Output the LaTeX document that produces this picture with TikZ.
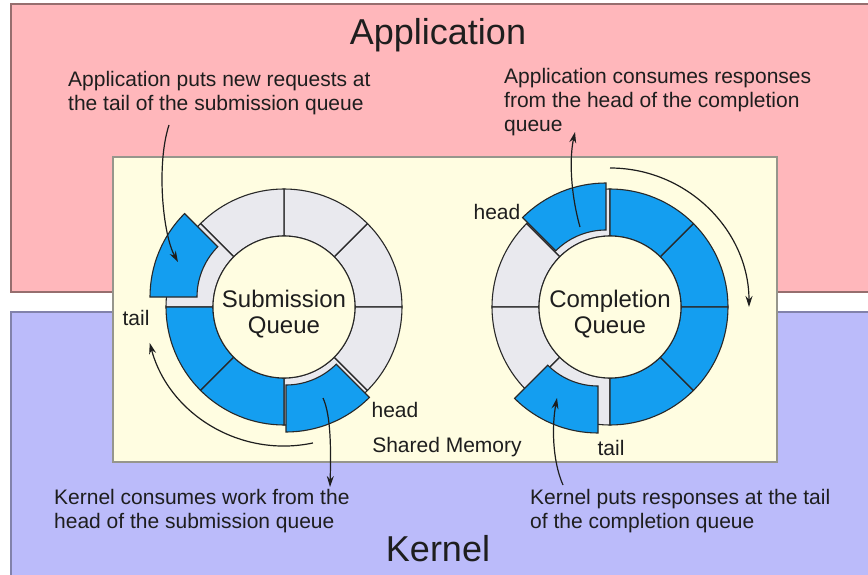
\documentclass[tikz,border=0pt]{standalone}
\usepackage{fontspec}
\setmainfont{Liberation Sans}
\usetikzlibrary{arrows.meta}
\definecolor{appfill}{RGB}{255,183,187}
\definecolor{appline}{RGB}{150,110,110}
\definecolor{kerfill}{RGB}{187,187,250}
\definecolor{kerline}{RGB}{130,130,170}
\definecolor{memfill}{RGB}{255,253,225}
\definecolor{memline}{RGB}{150,150,140}
\definecolor{segblue}{RGB}{20,158,240}
\definecolor{seggray}{RGB}{233,233,238}
\definecolor{ringline}{RGB}{40,40,40}
\definecolor{txt}{RGB}{30,30,30}
\newcommand{\ringseg}[2]{(#1:71) -- (#1:118) arc[start angle=#1, end angle=#2, radius=118] -- (#2:71) arc[start angle=#2, end angle=#1, radius=71] -- cycle}
\begin{document}
\begin{tikzpicture}[x=1pt, y=-1pt,
  region/.style={line width=1.2pt},
  bluecell/.style={fill=segblue, draw=ringline, line width=1.1pt},
  graycell/.style={fill=seggray, draw=ringline, line width=1.1pt},
  hub/.style={fill=memfill, draw=ringline, line width=1.1pt},
  lbl/.style={text=txt, font=\fontsize{21}{24}\selectfont, inner sep=0pt, align=left},
  title/.style={text=txt, font=\fontsize{36}{40}\selectfont, inner sep=0pt},
  qname/.style={text=txt, font=\fontsize{24}{26}\selectfont, inner sep=0pt, align=center},
  ptr/.style={draw=txt, line width=1.2pt, -{Stealth[length=11pt,width=7pt]}},
]
\path[use as bounding box] (0,0) rectangle (868,575);
\clip (0,0) rectangle (868,575);
\fill[white] (0,0) rectangle (868,575);
\filldraw[region, fill=appfill, draw=appline] (11,4) rectangle (880,292);
\filldraw[region, fill=kerfill, draw=kerline] (11,312) rectangle (880,590);
\filldraw[region, fill=memfill, draw=memline] (113,157) rectangle (777,462);

\coordinate (sq) at (284,307);
\coordinate (cq) at (610,307);

% Submission queue ring
\begin{scope}[shift={(sq)}]
  \foreach \a/\b in {0/-45,-45/-90,-90/-135,-135/-180,-270/-315,-315/-360}
    {\filldraw[graycell] \ringseg{\a}{\b};}
  \foreach \a/\b in {-180/-225,-225/-270}
    {\filldraw[bluecell] \ringseg{\a}{\b};}
  \filldraw[hub] (0,0) circle[radius=71];
  \filldraw[bluecell, shift={(-16,-10)}] \ringseg{-135}{-180};
  \filldraw[bluecell, shift={(2,7)}] \ringseg{-270}{-315};
\end{scope}

% Completion queue ring
\begin{scope}[shift={(cq)}]
  \foreach \a/\b in {-90/-135,-135/-180,-180/-225,-225/-270}
    {\filldraw[graycell] \ringseg{\a}{\b};}
  \foreach \a/\b in {0/-45,-45/-90,-270/-315,-315/-360}
    {\filldraw[bluecell] \ringseg{\a}{\b};}
  \filldraw[hub] (0,0) circle[radius=71];
  \filldraw[bluecell, shift={(-4,-6)}] \ringseg{-90}{-135};
  \filldraw[bluecell, shift={(-12,8)}] \ringseg{-225}{-270};
\end{scope}

\node[qname] (sqlabel) at (284,314) {Submission\\Queue};
\node[qname] (cqlabel) at (610,314) {Completion\\Queue};

% direction arcs
\draw[ptr] ([shift={(78:139)}]sq) arc[start angle=78, end angle=165, radius=139];
\draw[ptr] ([shift={(-90:139)}]cq) arc[start angle=-90, end angle=0, radius=139];

% pointer labels
\node[lbl] (sqtail) at (136,318) {tail};
\node[lbl] (sqhead) at (395,410) {head};
\node[lbl] (cqhead) at (497,212) {head};
\node[lbl] (cqtail) at (611,448) {tail};
\node[lbl] (shm) at (447,447) {Shared Memory};

% titles
\node[title, anchor=base] (app) at (438,45) {Application};
\node[title, anchor=base] (ker) at (438,561) {Kernel};

% notes
\node[lbl, anchor=north west] (n1) at (68,71) {Application puts new requests at\\the tail of the submission queue};
\node[lbl, anchor=north west] (n2) at (504,68) {Application consumes responses\\from the head of the completion\\queue};
\node[lbl, anchor=north west] (n3) at (54,489) {Kernel consumes work from the\\head of the submission queue};
\node[lbl, anchor=north west] (n4) at (530,489) {Kernel puts responses at the tail\\of the completion queue};

% note arrows
\coordinate (p1s) at (169,125); \coordinate (p1e) at (178,262);
\draw[ptr] (p1s) .. controls (156,165) and (163,235) .. (p1e);
\coordinate (p2s) at (580,227); \coordinate (p2e) at (575,132);
\draw[ptr] (p2s) .. controls (571,195) and (569,160) .. (p2e);
\coordinate (p3s) at (323,398); \coordinate (p3e) at (330,487);
\draw[ptr] (p3s) .. controls (331,415) and (331,450) .. (p3e);
\coordinate (p4s) at (563,485); \coordinate (p4e) at (557,398);
\draw[ptr] (p4s) .. controls (552,460) and (552,425) .. (p4e);
\end{tikzpicture}
\end{document}
